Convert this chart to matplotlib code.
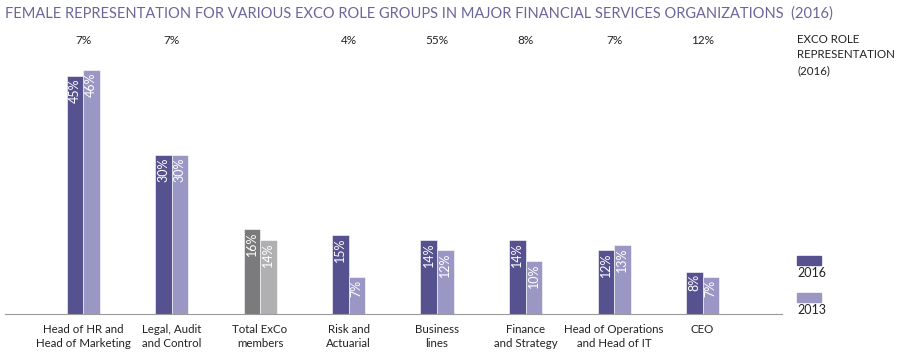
import numpy as np
import matplotlib
matplotlib.use("Agg")
import matplotlib.pyplot as plt
from matplotlib.transforms import blended_transform_factory

plt.rcParams['font.family'] = ['Lato', 'DejaVu Sans']

# Data
categories = ["Head of HR and\nHead of Marketing", "Legal, Audit\nand Control", "Total ExCo\nmembers",
              "Risk and\nActuarial", "Business\nlines", "Finance\nand Strategy",
              "Head of Operations\nand Head of IT", "CEO"]
vals_2016 = [45, 30, 16, 15, 14, 14, 12, 8]
vals_2013 = [46, 30, 14, 7, 12, 10, 13, 7]
exco_repr = ["7%", "7%", "", "4%", "55%", "8%", "7%", "12%"]

dark = "#56518f"
light = "#9b97c4"
gray_dark = "#7b7b7d"
gray_light = "#b0b0b2"

W, H = 900, 354
fig = plt.figure(figsize=(W / 100, H / 100), dpi=100)

# axes placed in pixel terms
left_px, right_px, bottom_px, top_px = 5, 782, 314, 60
ax = fig.add_axes([left_px / W, 1 - bottom_px / H, (right_px - left_px) / W, (bottom_px - top_px) / H])

spacing = 88.5
first = 83
x = np.arange(len(categories))
bw = 16.5 / spacing

c16 = [gray_dark if i == 2 else dark for i in x]
c13 = [gray_light if i == 2 else light for i in x]
b1 = ax.bar(x - bw / 2, vals_2016, bw, color=c16, edgecolor="white", linewidth=0.4)
b2 = ax.bar(x + bw / 2, vals_2013, bw, color=c13, edgecolor="white", linewidth=0.4)

ax.set_xlim((left_px - first) / spacing, (right_px - first) / spacing)
ax.set_ylim(0, (bottom_px - top_px) / 5.3)

for bars, vals in [(b1, vals_2016), (b2, vals_2013)]:
    for b, v in zip(bars, vals):
        ax.text(b.get_x() + b.get_width() / 2, v - 0.5, f"{v}%", rotation=90,
                ha="center", va="top", color="white", fontsize=9)

for s in ["top", "left", "right"]:
    ax.spines[s].set_visible(False)
ax.spines["bottom"].set_color("#9a9a9a")
ax.set_yticks([])
ax.set_xticks(x)
ax.set_xticklabels(categories, fontsize=8.3, color="#222222", linespacing=1.4)
ax.tick_params(axis="x", length=0, pad=7)

# top row of representation values
tr = blended_transform_factory(ax.transData, fig.transFigure)
for i, t in zip(x, exco_repr):
    ax.text(i, 1 - 40 / H, t, transform=tr, ha="center", va="center", fontsize=8.5, color="#222222")

fig.text(5 / W, 1 - 14 / H, "FEMALE REPRESENTATION FOR VARIOUS EXCO ROLE GROUPS IN MAJOR FINANCIAL SERVICES ORGANIZATIONS  (2016)",
         ha="left", va="center", fontsize=10.5, color="#6a6699")

fig.text(797 / W, 1 - 34 / H, "EXCO ROLE\nREPRESENTATION\n(2016)", ha="left", va="top",
         fontsize=8.3, color="#222222", linespacing=1.5)

# legend
for yp, col, lab in [(256, dark, "2016"), (293, light, "2013")]:
    fig.patches.append(plt.Rectangle((797 / W, 1 - (yp + 9) / H), 24 / W, 9 / H,
                                     transform=fig.transFigure, color=col))
    fig.text(797 / W, 1 - (yp + 17) / H, lab, ha="left", va="center", fontsize=9, color="#222222")

fig.savefig("out.png", dpi=100, facecolor="white")
